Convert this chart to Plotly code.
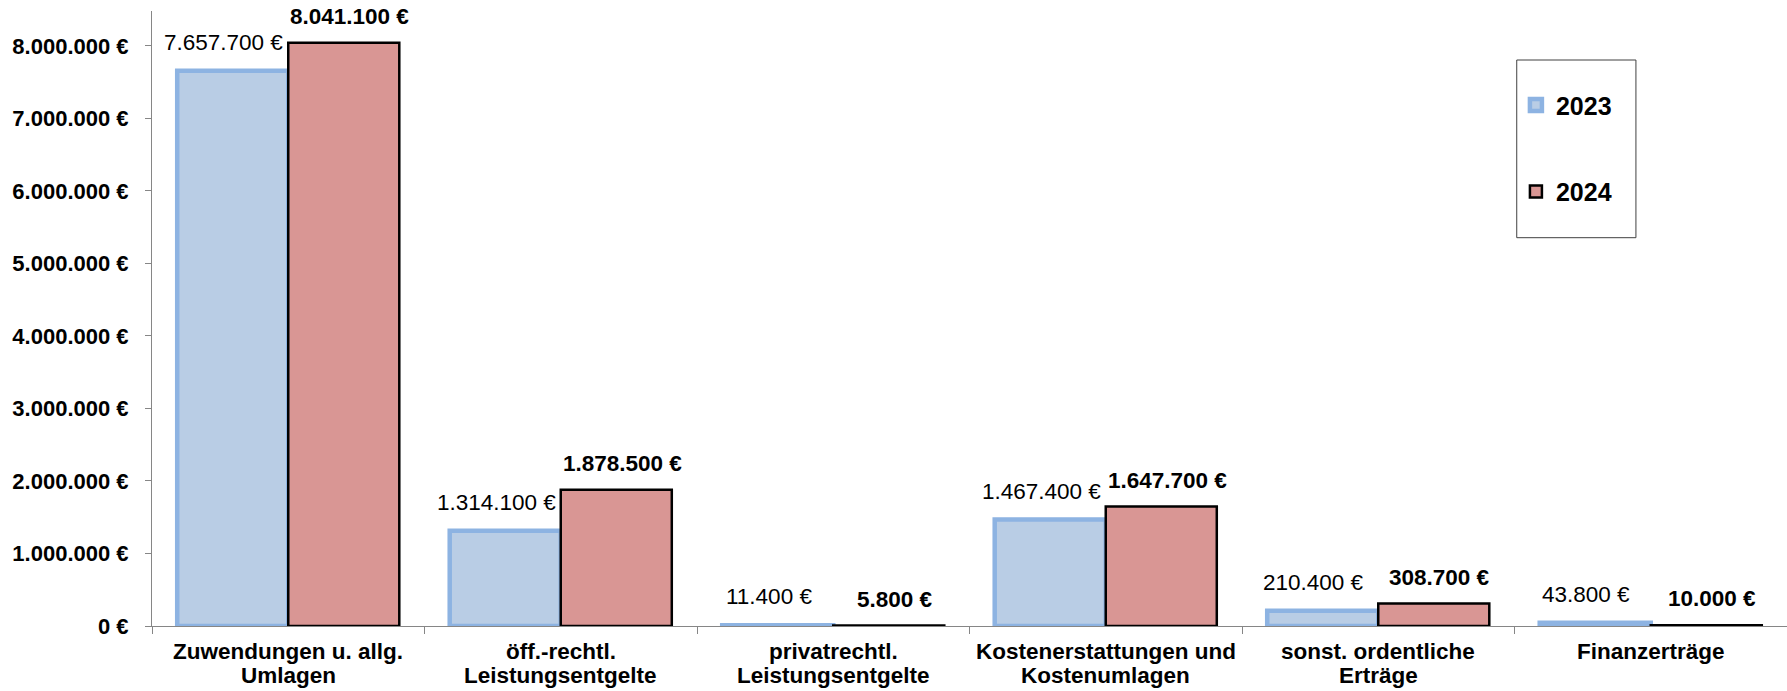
import plotly.graph_objects as go

categories = [
    "Zuwendungen u. allg.<br>Umlagen",
    "öff.-rechtl.<br>Leistungsentgelte",
    "privatrechtl.<br>Leistungsentgelte",
    "Kostenerstattungen und<br>Kostenumlagen",
    "sonst. ordentliche<br>Erträge",
    "Finanzerträge",
]
values_2023 = [7657700, 1314100, 11400, 1467400, 210400, 43800]
values_2024 = [8041100, 1878500, 5800, 1647700, 308700, 10000]
series_names = ["2023", "2024"]
y_tick_values = [0, 1000000, 2000000, 3000000, 4000000, 5000000, 6000000, 7000000, 8000000]


def euro(v):
    return f"{v:,}".replace(",", ".") + " €"


FONT = "Liberation Sans, Arial, sans-serif"
BLUE_FILL = "#B9CDE5"
BLUE_LINE = "#8DB3E2"
RED_FILL = "#D99694"
AXIS = "#868686"

fig = go.Figure()
fig.add_trace(go.Bar(
    x=categories, y=values_2023, name=series_names[0], legendgroup="a",
    marker=dict(color=BLUE_FILL, line=dict(color=BLUE_LINE, width=4.5)),
))
fig.add_trace(go.Bar(
    x=categories, y=values_2024, name=series_names[1], legendgroup="b",
    marker=dict(color=RED_FILL, line=dict(color="black", width=2.5)),
))

annotations = []
for i, (a, b) in enumerate(zip(values_2023, values_2024)):
    annotations.append(dict(
        x=i - 0.2, y=a, xref="x", yref="y", text=euro(a), showarrow=False,
        xanchor="center", yanchor="bottom", xshift=-10, yshift=14,
        font=dict(family=FONT, size=22.5, color="black"),
    ))
    annotations.append(dict(
        x=i + 0.2, y=b, xref="x", yref="y", text=euro(b), showarrow=False,
        xanchor="center", yanchor="bottom", xshift=7, yshift=12,
        font=dict(family=FONT, size=22.5, color="black", weight="bold"),
    ))

# category labels (two lines each, tighter line spacing than tick labels allow)
for i, cat in enumerate(categories):
    for j, line in enumerate(cat.split("<br>")):
        annotations.append(dict(
            x=i, y=0, xref="x", yref="y", text=line, showarrow=False,
            xanchor="center", yanchor="middle", yshift=-25 - 24 * j,
            font=dict(family=FONT, size=22.5, color="black", weight="bold"),
        ))

fig.update_layout(
    width=1787, height=691,
    margin=dict(l=152, r=0, t=11, b=65, autoexpand=False),
    paper_bgcolor="white", plot_bgcolor="white",
    barmode="group", bargap=0.185, bargroupgap=0,
    font=dict(family=FONT, color="black"),
    annotations=annotations,
    showlegend=True,
    legend=dict(
        x=0.8342, y=0.884, xanchor="left", yanchor="top",
        bgcolor="rgba(0,0,0,0)", borderwidth=0,
        font=dict(family=FONT, size=25, color="black", weight="bold"),
        traceorder="grouped", tracegroupgap=51,
        itemwidth=30,
    ),
    shapes=[dict(
        type="rect", xref="paper", yref="paper",
        x0=0.8347, x1=0.9076, y0=0.6314, y1=0.9203,
        line=dict(color="#404040", width=1), fillcolor="rgba(0,0,0,0)",
    )],
)
fig.update_xaxes(
    type="category", showline=True, linecolor=AXIS, linewidth=1,
    ticks="outside", tickson="boundaries", ticklen=7, tickcolor=AXIS,
    showgrid=False, zeroline=False, showticklabels=False,
)
fig.update_yaxes(
    range=[0, 8480000], showline=True, linecolor=AXIS, linewidth=1,
    ticks="outside", ticklen=6, tickcolor=AXIS, ticklabelstandoff=12,
    tickvals=y_tick_values, ticktext=[euro(v) for v in y_tick_values],
    showgrid=False, zeroline=False,
    tickfont=dict(family=FONT, size=22, color="black", weight="bold"),
)

# remove the browser's default 8px body margin so the figure fills the window
fig.write_html(
    "out.html",
    config={"displayModeBar": False},
    post_script="document.body.style.margin='0';document.body.style.overflow='hidden';",
)
